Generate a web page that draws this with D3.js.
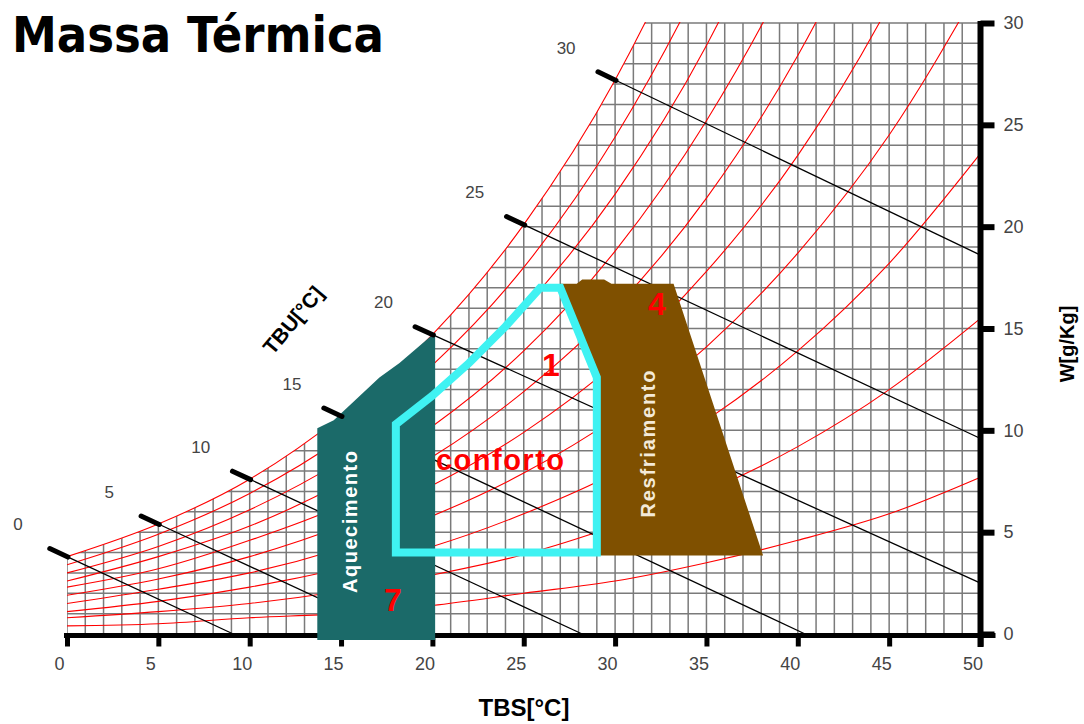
<!DOCTYPE html>
<html>
<head>
<meta charset="utf-8">
<script src="https://d3js.org/d3.v7.min.js"></script>
<style>
  body { margin: 0; background: #fff; }
  svg { display: block; font-family: "Liberation Sans", Arial, sans-serif; }
</style>
</head>
<body>
<script>
// dry bulb temperatures (TBS, °C) where the humidity curves were read
let tbs = [0, 5, 10, 15, 20, 25, 30, 35, 40, 45, 50];
// humidity ratio W [g/kg] of each relative humidity curve at those temperatures
let rhLevels = [10, 20, 30, 40, 50, 60, 70, 80, 90, 100];
let rh10  = [0.4, 0.5, 0.8, 1.0, 1.4, 2.0, 2.6, 3.5, 4.6, 5.9, 7.7];
let rh20  = [0.8, 1.1, 1.5, 2.1, 2.9, 3.9, 5.3, 7.0, 9.2, 12.0, 15.5];
let rh30  = [1.1, 1.6, 2.3, 3.2, 4.3, 5.9, 7.9, 10.5, 13.9, 18.2, 23.6];
let rh40  = [1.5, 2.2, 3.0, 4.2, 5.8, 7.9, 10.6, 14.1, 18.7, 24.5, 31.9];
let rh50  = [1.9, 2.7, 3.8, 5.3, 7.3, 9.9, 13.3, 17.8, 23.5, 30.9, 40.4];
let rh60  = [2.3, 3.2, 4.6, 6.3, 8.7, 11.9, 16.0, 21.4, 28.4, 37.5, 49.1];
let rh70  = [2.6, 3.8, 5.3, 7.4, 10.2, 13.9, 18.8, 25.2, 33.4, 44.2, 58.0];
let rh80  = [3.0, 4.3, 6.1, 8.5, 11.7, 16.0, 21.6, 28.9, 38.5, 51.0, 67.2];
let rh90  = [3.4, 4.9, 6.9, 9.6, 13.2, 18.0, 24.4, 32.7, 43.7, 58.0, 76.7];
let rh100 = [3.8, 5.4, 7.6, 10.7, 14.7, 20.1, 27.2, 36.6, 48.9, 65.1, 86.4];
let rhCurves = [rh10, rh20, rh30, rh40, rh50, rh60, rh70, rh80, rh90, rh100];

// wet bulb lines (TBU): start on saturation, end on the frame
let tbuLabels = [0, 5, 10, 15, 20, 25, 30];
let tbuStartW = [3.8, 5.4, 7.6, 10.7, 14.7, 20.1, 27.2];
let tbuEndT = [9.1, 18.0, 28.2, 40.4, 50, 50, 50];
let tbuEndW = [0, 0, 0, 0, 2.5, 9.6, 18.6];

// axis ticks
let tbsTicks = [0, 5, 10, 15, 20, 25, 30, 35, 40, 45, 50];
let wTicks = [0, 5, 10, 15, 20, 25, 30];

// strategy zones (TBS °C, W g/kg)
let heatT = [13.7, 13.7, 14.6, 17.1, 18.2, 20.15, 20.15];
let heatW = [-0.3, 10.1, 10.5, 12.6, 13.3, 14.8, -0.3];
let comfortT = [18, 18, 20, 22, 24, 25.9, 27, 29, 29];
let comfortW = [4, 10.3, 11.7, 13.3, 15.1, 17.0, 17.0, 12.6, 4];
let coolT = [27, 27.9, 28.2, 29.4, 29.8, 33.2, 38.1, 29, 29];
let coolW = [17.2, 17.2, 17.4, 17.4, 17.2, 17.2, 3.85, 3.85, 12.6];

let width = 1084, height = 724;
let svg = d3.select("body").append("svg")
    .attr("width", width).attr("height", height);

let x = d3.scaleLinear().domain([0, 50]).range([67, 980.5]);
let y = d3.scaleLinear().domain([0, 30]).range([634, 23]);

let defs = svg.append("defs");
defs.append("clipPath").attr("id", "plot")
  .append("rect")
    .attr("x", x(0)).attr("y", y(30) - 1)
    .attr("width", x(50) - x(0)).attr("height", y(0) - y(30) + 2);

let satArea = d3.area()
    .x((d, i) => x(tbs[i]))
    .y0(y(0) + 1)
    .y1(d => y(d))
    .curve(d3.curveMonotoneX);
defs.append("clipPath").attr("id", "sat")
  .append("path").attr("d", satArea(rh100));

// grid under the saturation curve
let gridOuter = svg.append("g").attr("clip-path", "url(#plot)");
let grid = gridOuter.append("g").attr("clip-path", "url(#sat)")
    .attr("stroke", "#7a7a7a").attr("stroke-width", 1.5);
grid.selectAll("line.v").data(x.ticks(50)).join("line").attr("class", "v")
    .attr("x1", d => x(d)).attr("x2", d => x(d))
    .attr("y1", y(0)).attr("y2", y(30));
grid.selectAll("line.h").data(y.ticks(30)).join("line").attr("class", "h")
    .attr("x1", x(0)).attr("x2", x(50))
    .attr("y1", d => y(d)).attr("y2", d => y(d));

// relative humidity curves
let rhLine = d3.line()
    .x((d, i) => x(tbs[i]))
    .y(d => y(d))
    .curve(d3.curveMonotoneX);
gridOuter.append("g").selectAll("path").data(rhCurves).join("path")
    .attr("d", rhLine)
    .attr("fill", "none").attr("stroke", "#ff0000").attr("stroke-width", 1.1);

// wet bulb lines
let tbu = svg.append("g");
tbu.selectAll("line").data(tbuLabels).join("line")
    .attr("x1", d => x(d)).attr("y1", (d, i) => y(tbuStartW[i]))
    .attr("x2", (d, i) => x(tbuEndT[i])).attr("y2", (d, i) => y(tbuEndW[i]))
    .attr("stroke", "#000").attr("stroke-width", 1.3);

// axes
let axisG = svg.append("g");
axisG.append("line")
    .attr("x1", x(0) - 3).attr("x2", x(50) + 15)
    .attr("y1", y(0) + 1.5).attr("y2", y(0) + 1.5)
    .attr("stroke", "#000").attr("stroke-width", 5);
axisG.append("line")
    .attr("x1", x(50)).attr("x2", x(50))
    .attr("y1", y(30) - 2).attr("y2", y(0) + 13)
    .attr("stroke", "#000").attr("stroke-width", 6);

let xAxis = d3.axisBottom(x).tickValues(tbsTicks).tickSize(11).tickPadding(11).tickSizeOuter(0);
let xg = axisG.append("g").attr("transform", "translate(0," + (y(0) + 1.5) + ")").call(xAxis);
xg.select(".domain").remove();
xg.selectAll(".tick line").attr("stroke", "#000").attr("stroke-width", 5);
xg.selectAll(".tick text").attr("dx", -8).attr("fill", "#444")
    .style("font-size", "18px").style("font-family", "'Liberation Sans', Arial, sans-serif");

let yAxis = d3.axisRight(y).tickValues(wTicks).tickSize(14).tickPadding(9).tickSizeOuter(0);
let yg = axisG.append("g").attr("transform", "translate(" + x(50) + ",0)").call(yAxis);
yg.select(".domain").remove();
yg.selectAll(".tick line").attr("stroke", "#000").attr("stroke-width", 6);
yg.selectAll(".tick text").attr("fill", "#444")
    .style("font-size", "18px").style("font-family", "'Liberation Sans', Arial, sans-serif");

// zones
let poly = (ts, ws) => d3.line().curve(d3.curveLinearClosed)(ts.map((t, i) => [x(t), y(ws[i])]));
svg.append("path").attr("d", poly(heatT, heatW)).attr("fill", "#1b6a69");
svg.append("path").attr("d", poly(coolT, coolW)).attr("fill", "#7f5000");
svg.append("path").attr("d", poly(comfortT, comfortW))
    .attr("fill", "none").attr("stroke", "#3ff2f2").attr("stroke-width", 8)
    .attr("stroke-linejoin", "miter");

// wet bulb markers and labels
tbuLabels.forEach((d, i) => {
  let x0 = x(d), y0 = y(tbuStartW[i]);
  let dx = x(tbuEndT[i]) - x0, dy = y(tbuEndW[i]) - y0;
  let len = Math.sqrt(dx * dx + dy * dy);
  let ux = dx / len, uy = dy / len;
  svg.append("line")
      .attr("x1", x0 - 19 * ux).attr("y1", y0 - 19 * uy)
      .attr("x2", x0 + 1 * ux).attr("y2", y0 + 1 * uy)
      .attr("stroke", "#000").attr("stroke-width", 5).attr("stroke-linecap", "round");
  svg.append("text")
      .attr("x", x0 - 49).attr("y", y0 - 32)
      .attr("text-anchor", "middle").attr("dominant-baseline", "central")
      .attr("fill", "#444").style("font-size", "17px")
      .text(d);
});

// texts
svg.append("text").attr("x", 12).attr("y", 52)
    .attr("textLength", 372).attr("lengthAdjust", "spacingAndGlyphs")
    .style("font-family", "'DejaVu Sans', Verdana, sans-serif")
    .style("font-weight", "bold").style("font-size", "50px")
    .text("Massa Térmica");

svg.append("text").attr("x", 524).attr("y", 716).attr("text-anchor", "middle")
    .style("font-weight", "bold").style("font-size", "24px").text("TBS[°C]");

svg.append("text").attr("transform", "translate(1074,344) rotate(-90)")
    .attr("text-anchor", "middle")
    .style("font-weight", "bold").style("font-size", "20px").text("W[g/Kg]");

svg.append("text").attr("transform", "translate(293,320) rotate(-50)")
    .attr("text-anchor", "middle").attr("dominant-baseline", "central")
    .style("font-weight", "bold").style("font-size", "21px").text("TBU[°C]");

svg.append("text").attr("transform", "translate(357,522) rotate(-90)")
    .attr("text-anchor", "middle").attr("textLength", 142).attr("lengthAdjust", "spacing")
    .attr("fill", "#fff").style("font-weight", "bold").style("font-size", "20px")
    .text("Aquecimento");

svg.append("text").attr("transform", "translate(655,444) rotate(-90)")
    .attr("text-anchor", "middle").attr("textLength", 147).attr("lengthAdjust", "spacing")
    .attr("fill", "#f4ead8").style("font-weight", "bold").style("font-size", "20px")
    .text("Resfriamento");

svg.append("text").attr("x", 500).attr("y", 470).attr("text-anchor", "middle")
    .attr("textLength", 128).attr("lengthAdjust", "spacing")
    .attr("fill", "#ff0000").style("font-weight", "bold").style("font-size", "29px")
    .text("conforto");

let marks = [["7", 393, 611], ["1", 551, 376], ["4", 657, 315]];
svg.selectAll("text.num").data(marks).join("text").attr("class", "num")
    .attr("x", d => d[1]).attr("y", d => d[2]).attr("text-anchor", "middle")
    .attr("fill", "#ff0000").style("font-weight", "bold").style("font-size", "32px")
    .text(d => d[0]);
</script>
</body>
</html>
